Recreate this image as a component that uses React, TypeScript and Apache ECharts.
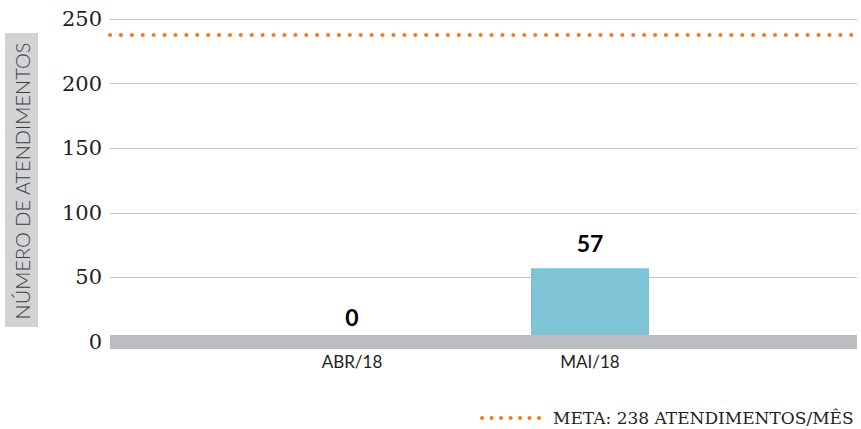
import React, { useEffect, useRef } from "react";
import * as echarts from "echarts";

const categories = ["ABR/18", "MAI/18"];
const atendimentos = [0, 57];
const META = 238;
const yTicks = { min: 0, max: 250, interval: 50 };
const yTitle = "NÚMERO DE ATENDIMENTOS";

const ORANGE = "#F47B20";
const BAR = "#7FC4D6";
const BAND = "#BCBDC0";

export default function App() {
  const ref = useRef<HTMLDivElement>(null);
  useEffect(() => {
    if (!ref.current) return;
    const chart = echarts.init(ref.current, undefined, { renderer: "svg" });
    chart.setOption({
      animation: false,
      backgroundColor: "#ffffff",
      grid: [
        { left: 110, right: 4, top: 19, bottom: 87 },
        { left: 233, right: 152, top: 19, bottom: 87 },
      ],
      xAxis: [
        {
          gridIndex: 0,
          type: "category",
          data: [""],
          z: 5,
          axisLine: { show: true, lineStyle: { color: BAND, width: 14, cap: "butt" } },
          axisTick: { show: false },
          axisLabel: { show: false },
        },
        {
          gridIndex: 1,
          type: "category",
          data: categories,
          axisLine: { show: false },
          axisTick: { show: false },
          axisLabel: {
            margin: 11,
            fontFamily: "Lato",
            fontSize: 17,
            color: "#231F20",
          },
        },
      ],
      yAxis: [
        {
          gridIndex: 0,
          type: "value",
          min: yTicks.min,
          max: yTicks.max,
          interval: yTicks.interval,
          axisLine: { show: false },
          axisTick: { show: false },
          splitLine: { lineStyle: { color: "#C4C5C7", width: 1.2 } },
          axisLabel: {
            margin: 8,
            fontFamily: "DejaVu Serif",
            fontSize: 21,
            color: "#231F20",
          },
        },
        {
          gridIndex: 1,
          type: "value",
          min: yTicks.min,
          max: yTicks.max,
          interval: yTicks.interval,
          show: false,
          splitLine: { show: false },
        },
      ],
      series: [
        {
          type: "line",
          xAxisIndex: 0,
          yAxisIndex: 0,
          data: [null],
          symbol: "none",
          markLine: {
            silent: true,
            symbol: ["none", "none"],
            label: { show: false },
            lineStyle: {
              color: ORANGE,
              width: 4,
              type: [0.1, 10.8],
              cap: "round",
            },
            data: [{ yAxis: META }],
          },
        },
        {
          type: "bar",
          xAxisIndex: 1,
          yAxisIndex: 1,
          data: atendimentos,
          barWidth: 118,
          itemStyle: { color: BAR },
          label: {
            show: true,
            position: "top",
            distance: 14,
            fontFamily: "Lato",
            fontWeight: "bold",
            fontSize: 23,
            color: "#000000",
          },
        },
      ],
      graphic: [
        {
          type: "rect",
          shape: { x: 5, y: 33, width: 33, height: 294 },
          style: { fill: "#D1D3D4" },
          silent: true,
        },
        {
          type: "text",
          x: 22,
          y: 181,
          rotation: Math.PI / 2,
          style: {
            text: yTitle,
            fontFamily: "Lato",
            fontWeight: 300,
            fontSize: 20,
            fill: "#3A3A3A",
            align: "center",
            verticalAlign: "middle",
          },
          silent: true,
        },
        {
          type: "line",
          shape: { x1: 482, y1: 418, x2: 547, y2: 418 },
          style: {
            stroke: ORANGE,
            lineWidth: 4,
            lineDash: [0.1, 9.4],
            lineCap: "round",
          },
          silent: true,
        },
        {
          type: "text",
          x: 553,
          y: 418,
          style: {
            text: `META: ${META} ATENDIMENTOS/MÊS`,
            fontFamily: "DejaVu Serif",
            fontSize: 17,
            fill: "#231F20",
            align: "left",
            verticalAlign: "middle",
          },
          silent: true,
        },
      ],
    });
    return () => chart.dispose();
  }, []);
  return (
    <div
      ref={ref}
      style={{ position: "fixed", left: 0, top: 0, width: 861, height: 429 }}
    />
  );
}
